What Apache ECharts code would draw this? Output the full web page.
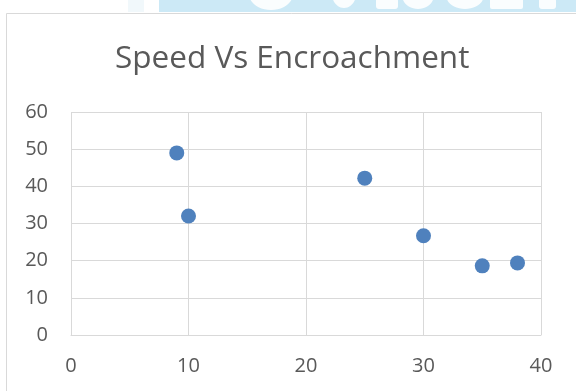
<!DOCTYPE html>
<html>
<head>
<meta charset="utf-8">
<script src="https://cdn.jsdelivr.net/npm/echarts@6/dist/echarts.min.js"></script>
<style>html,body{margin:0;padding:0;background:#fff}#c{width:576px;height:391px}</style>
</head>
<body>
<div id="c"></div>
<script>
var titleText = 'Speed Vs Encroachment';
var speed = [9, 10, 25, 30, 35, 38];
var encroachment = [49, 32, 42.2, 26.7, 18.6, 19.4];
var xTicks = [0, 10, 20, 30, 40];
var yTicks = [0, 10, 20, 30, 40, 50, 60];

var points = speed.map(function (s, i) { return [s, encroachment[i]]; });
var chart = echarts.init(document.getElementById('c'), null, {renderer: 'canvas'});
var font = '"Open Sans", sans-serif';
var wm = '#ffffff';
chart.setOption({
  animation: false,
  backgroundColor: '#ffffff',
  title: {
    text: titleText,
    left: 110,
    top: 38,
    textStyle: {fontFamily: font, fontSize: 31.5, fontWeight: 'normal', color: '#595959'}
  },
  graphic: [
    {type: 'rect', shape: {x: 159, y: 0, width: 430, height: 12}, style: {fill: '#cce9f6'}, z: 1},
    {type: 'rect', shape: {x: 128, y: 0, width: 16, height: 12}, style: {fill: '#f1f8fb'}, z: 1},
    {type: 'ellipse', shape: {cx: 271, cy: -6, rx: 22, ry: 16}, style: {fill: wm, opacity: 0.9}, z: 2},
    {type: 'ellipse', shape: {cx: 344, cy: -6, rx: 12, ry: 14}, style: {fill: wm, opacity: 0.9}, z: 2},
    {type: 'rect', shape: {x: 376, y: -2, width: 22, height: 11, r: 3}, style: {fill: wm, opacity: 0.9}, z: 2},
    {type: 'ellipse', shape: {cx: 418, cy: -5, rx: 16, ry: 14}, style: {fill: wm, opacity: 0.9}, z: 2},
    {type: 'ellipse', shape: {cx: 465, cy: -5, rx: 19, ry: 14}, style: {fill: wm, opacity: 0.9}, z: 2},
    {type: 'rect', shape: {x: 490, y: -2, width: 33, height: 11, r: 2}, style: {fill: wm, opacity: 0.9}, z: 2},
    {type: 'rect', shape: {x: 539, y: -2, width: 17, height: 11, r: 3}, style: {fill: wm, opacity: 0.9}, z: 2},
    {type: 'rect', shape: {x: 0, y: 12, width: 576, height: 1}, style: {fill: '#ffffff'}, z: 3},
    {type: 'line', shape: {x1: 6.5, y1: 13.5, x2: 580, y2: 13.5}, style: {stroke: '#d9d9d9', lineWidth: 1}, z: 3},
    {type: 'line', shape: {x1: 6.5, y1: 13.5, x2: 6.5, y2: 400}, style: {stroke: '#d9d9d9', lineWidth: 1}, z: 3}
  ],
  grid: {left: 71, top: 112, right: 35, bottom: 56, containLabel: false},
  xAxis: {
    type: 'value', min: xTicks[0], max: xTicks[xTicks.length - 1], interval: 10,
    axisLine: {show: true, lineStyle: {color: '#d9d9d9', width: 1}},
    axisTick: {show: false},
    splitLine: {show: true, lineStyle: {color: '#d9d9d9', width: 1}},
    axisLabel: {color: '#595959', fontFamily: font, fontSize: 20, margin: 21}
  },
  yAxis: {
    type: 'value', min: yTicks[0], max: yTicks[yTicks.length - 1], interval: 10,
    axisLine: {show: false},
    axisTick: {show: false},
    splitLine: {show: true, lineStyle: {color: '#d9d9d9', width: 1}},
    axisLabel: {color: '#595959', fontFamily: font, fontSize: 20, margin: 23}
  },
  series: [{
    type: 'scatter',
    data: points,
    symbol: 'circle',
    symbolSize: 15,
    itemStyle: {color: '#4f81bd', opacity: 1}
  }]
});
</script>
</body>
</html>
